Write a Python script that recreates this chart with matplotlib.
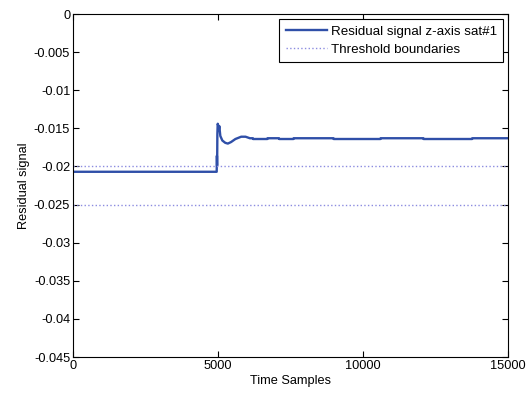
import matplotlib
matplotlib.use('Agg')
import matplotlib.pyplot as plt
import numpy as np

# residual signal, key samples
samples = [0, 4955, 4962, 4970, 4978, 4990, 5005, 5025, 5045, 5080, 5150, 5250, 5340,
           5450, 5600, 5800, 5950, 6100, 6200, 6210, 6700, 6710, 7100, 7110, 7600, 7610,
           8980, 8990, 10600, 10610, 12080, 12090, 13760, 13770, 15000]
residual = [-0.0207, -0.0207, -0.0186, -0.0199, -0.0158, -0.0144, -0.0146, -0.0153, -0.0147,
            -0.0160, -0.0166, -0.0169, -0.0170, -0.0168, -0.0164, -0.0161, -0.0161, -0.0163,
            -0.0163, -0.0164, -0.0164, -0.0163, -0.0163, -0.0164, -0.0164, -0.0163,
            -0.0163, -0.0164, -0.0164, -0.0163, -0.0163, -0.0164, -0.0164, -0.0163, -0.0163]
thresholds = [-0.02, -0.025]

plt.rcParams['font.family'] = ['Liberation Sans', 'DejaVu Sans']
plt.rcParams['font.size'] = 9.2

fig = plt.figure(figsize=(5.27, 3.96), dpi=100)
ax = fig.add_axes([73/527, 1-357/396, 435/527, 343/396])

ax.plot(samples, residual, color='#2f4fa8', lw=1.7, label='Residual signal z-axis sat#1')
ax.axhline(thresholds[0], color='#8c8ce0', lw=1, ls=':', label='Threshold boundaries')
ax.axhline(thresholds[1], color='#8c8ce0', lw=1, ls=':')

ax.set_xlim(0, 15000)
ax.set_ylim(-0.045, 0)
ax.set_xticks([0, 5000, 10000, 15000])
ax.set_yticks(np.arange(-0.045, 0.0001, 0.005))
ax.set_yticklabels(['-0.045', '-0.04', '-0.035', '-0.03', '-0.025', '-0.02',
                    '-0.015', '-0.01', '-0.005', '0'])
ax.tick_params(direction='in', top=True, right=True, length=4, width=0.8, pad=2)
for s in ax.spines.values():
    s.set_linewidth(0.8)
ax.set_xlabel('Time Samples', labelpad=2)
ax.set_ylabel('Residual signal', labelpad=3)

leg = ax.legend(loc='upper right', fancybox=False, framealpha=1, edgecolor='black',
                fontsize=9.6, borderaxespad=0.35, handlelength=3.1, handletextpad=0.25,
                borderpad=0.5, labelspacing=0.42)
leg.get_frame().set_linewidth(0.8)

fig.savefig('out.png', dpi=100)
